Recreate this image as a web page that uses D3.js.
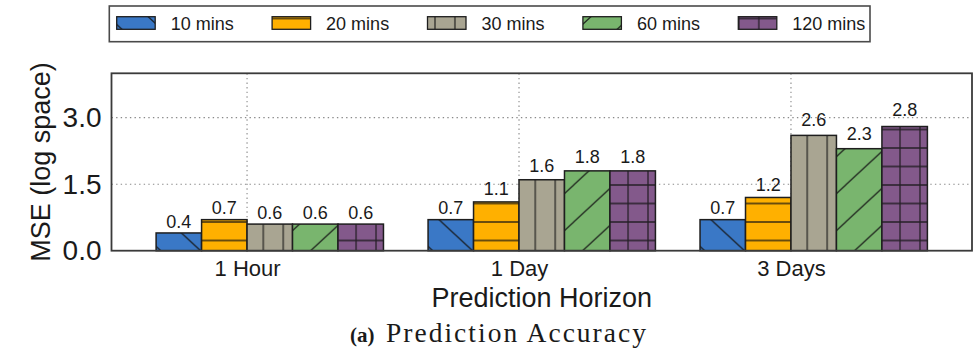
<!DOCTYPE html>
<html>
<head>
<meta charset="utf-8">
<script src="https://cdn.jsdelivr.net/npm/d3@7"></script>
<style>
  body { margin: 0; background: #fff; }
  svg { display: block; }
  .sans { font-family: "Liberation Sans", Arial, Helvetica, sans-serif; }
</style>
</head>
<body>
<svg id="chart" width="980" height="352"></svg>
<script>
// Prediction horizons (x categories) and sampling intervals (series)
const horizons = ["1 Hour", "1 Day", "3 Days"];
const intervals = ["10 mins", "20 mins", "30 mins", "60 mins", "120 mins"];

// MSE (log space) per interval, one value per horizon
const mse10  = [0.4, 0.7, 0.7];
const mse20  = [0.7, 1.1, 1.2];
const mse30  = [0.6, 1.6, 2.6];
const mse60  = [0.6, 1.8, 2.3];
const mse120 = [0.6, 1.8, 2.8];

const yTicks = [0.0, 1.5, 3.0];
const yMax = 4.0;

const fills = ["#3a78c6", "#ffb000", "#a9a592", "#79b56e", "#83598b"];
const hatchKinds = ["back", "horiz", "vert", "fwd", "grid"];

const series = [mse10, mse20, mse30, mse60, mse120];

const svg = d3.select("#chart");
const plot = { left: 111.5, right: 972, top: 73.3, bottom: 250.7 };

// ---- hatch patterns (anchored to the page, like matplotlib hatching) ----
const hx = 19.94, hy = 18.5;       // hatch cell size
const ink = "rgba(20,20,20,0.85)";
const hw = 1.3;
const defs = svg.append("defs");

function pattern(id, w, h, color, tx, ty) {
  const p = defs.append("pattern")
    .attr("id", id)
    .attr("patternUnits", "userSpaceOnUse")
    .attr("width", w).attr("height", h)
    .attr("patternTransform", `translate(${tx},${ty})`);
  p.append("rect").attr("width", w).attr("height", h).attr("fill", color);
  return p;
}

hatchKinds.forEach((kind, j) => {
  const id = "hatch-" + j;
  const c = fills[j];
  let p;
  if (kind === "back") {
    const w = 2 * hx, h = 2 * hy;
    p = pattern(id, w, h, c, 13.5, 0);
    p.append("path")
      .attr("d", `M${-w},${-h}L${2*w},${2*h}M0,${-h}L${2*w},${h}M${-w},0L${w},${2*h}`)
      .attr("stroke", ink).attr("stroke-width", hw).attr("fill", "none");
  } else if (kind === "fwd") {
    const w = 2 * hx, h = 2 * hy;
    p = pattern(id, w, h, c, 26, 0);
    p.append("path")
      .attr("d", `M${-w},${2*h}L${2*w},${-h}M0,${2*h}L${2*w},0M${-w},${h}L${w},${-h}`)
      .attr("stroke", ink).attr("stroke-width", hw).attr("fill", "none");
  } else if (kind === "horiz") {
    p = pattern(id, hx, hy, c, 0, 0);
    p.append("path").attr("d", `M-1,0H${hx+1}M-1,${hy}H${hx+1}`)
      .attr("stroke", ink).attr("stroke-width", hw);
  } else if (kind === "vert") {
    p = pattern(id, hx, hy, c, 7.5, 0);
    p.append("path").attr("d", `M0,-1V${hy+1}M${hx},-1V${hy+1}`)
      .attr("stroke", ink).attr("stroke-width", hw);
  } else {
    p = pattern(id, hx, hy, c, 0.6, 0);
    p.append("path").attr("d", `M0,-1V${hy+1}M${hx},-1V${hy+1}M-1,0H${hx+1}M-1,${hy}H${hx+1}`)
      .attr("stroke", ink).attr("stroke-width", hw);
  }
});

// ---- scales ----
const xGroup = d3.scaleBand()
  .domain(horizons)
  .range([plot.left, plot.right])
  .paddingInner(0.164)
  .paddingOuter(0.164);

const xBar = d3.scaleBand()
  .domain(intervals)
  .range([0, xGroup.bandwidth()]);

// category ticks sit at the left edge of the middle bar of each group
const xTick = d3.scaleOrdinal()
  .domain(horizons)
  .range(horizons.map(h => xGroup(h) + xBar(intervals[2])));

const y = d3.scaleLinear().domain([0, yMax]).range([plot.bottom, plot.top]);

// ---- grid ----
const grid = svg.append("g").attr("stroke", "#8a8a8a").attr("stroke-width", 1.1)
  .attr("stroke-dasharray", "1.4,3.2");
grid.selectAll(".gy").data(yTicks.filter(v => v > 0)).join("line")
  .attr("x1", plot.left).attr("x2", plot.right)
  .attr("y1", d => y(d)).attr("y2", d => y(d));
grid.selectAll(".gx").data(horizons).join("line")
  .attr("x1", d => xTick(d)).attr("x2", d => xTick(d))
  .attr("y1", plot.top).attr("y2", plot.bottom);

// ---- bars ----
const groups = svg.append("g").selectAll("g")
  .data(horizons.map((h, i) => ({ horizon: h, values: intervals.map((s, j) => ({ j, key: s, value: series[j][i] })) })))
  .join("g")
  .attr("transform", d => `translate(${xGroup(d.horizon)},0)`);

groups.selectAll("rect").data(d => d.values).join("rect")
  .attr("x", d => xBar(d.key))
  .attr("y", d => y(d.value))
  .attr("width", xBar.bandwidth())
  .attr("height", d => y(0) - y(d.value))
  .attr("fill", d => `url(#hatch-${d.j})`)
  .attr("stroke", "#1e1e1e")
  .attr("stroke-width", 1.5);

groups.selectAll("text").data(d => d.values).join("text")
  .attr("class", "sans")
  .attr("x", d => xBar(d.key) + xBar.bandwidth() / 2)
  .attr("y", d => y(d.value * 1.05) - 4)
  .attr("text-anchor", "middle")
  .attr("font-size", 18)
  .attr("fill", "#1a1a1a")
  .text(d => d3.format(".1f")(d.value));

// ---- frame ----
svg.append("rect")
  .attr("x", plot.left).attr("y", plot.top)
  .attr("width", plot.right - plot.left).attr("height", plot.bottom - plot.top)
  .attr("fill", "none").attr("stroke", "#3a3a3a").attr("stroke-width", 1.8);

// ---- axes ----
const xAxis = svg.append("g")
  .attr("class", "sans")
  .attr("transform", `translate(0,${plot.bottom})`)
  .call(d3.axisBottom(xTick).tickSize(0).tickPadding(9.3));
xAxis.select(".domain").remove();
xAxis.selectAll("text").attr("font-size", 22).attr("fill", "#1a1a1a")
  .attr("font-family", "Liberation Sans, Arial, sans-serif");

const yAxis = svg.append("g")
  .attr("class", "sans")
  .attr("transform", `translate(${plot.left},0)`)
  .call(d3.axisLeft(y).tickValues(yTicks).tickFormat(d3.format(".1f")).tickSize(0).tickPadding(10));
yAxis.select(".domain").remove();
yAxis.selectAll("text").attr("font-size", 28).attr("fill", "#1a1a1a")
  .attr("font-family", "Liberation Sans, Arial, sans-serif");

// axis titles
svg.append("text").attr("class", "sans")
  .attr("x", (plot.left + plot.right) / 2).attr("y", 307)
  .attr("text-anchor", "middle").attr("font-size", 27).attr("fill", "#1a1a1a")
  .text("Prediction Horizon");

svg.append("text").attr("class", "sans")
  .attr("transform", `translate(50,${(plot.top + plot.bottom) / 2}) rotate(-90)`)
  .attr("text-anchor", "middle").attr("font-size", 27).attr("fill", "#1a1a1a")
  .text("MSE (log space)");

// caption
svg.append("text")
  .attr("x", 350).attr("y", 341.5)
  .attr("font-family", "Liberation Serif, Times New Roman, serif")
  .attr("font-weight", "bold").attr("font-size", 21).attr("fill", "#1a1a1a")
  .text("(a)");
svg.append("text")
  .attr("x", 386).attr("y", 341.5)
  .attr("font-family", "Liberation Serif, Times New Roman, serif")
  .attr("font-size", 27.5).attr("fill", "#1a1a1a")
  .attr("textLength", 260).attr("lengthAdjust", "spacing")
  .text("Prediction Accuracy");

// ---- legend ----
const legend = svg.append("g");
legend.append("rect")
  .attr("x", 109.3).attr("y", 6).attr("width", 760.7).attr("height", 35.7)
  .attr("fill", "#fff").attr("stroke", "#4a4a4a").attr("stroke-width", 1.6);

const legendX = d3.scaleLinear().domain([0, intervals.length - 1]).range([116.7, 738.3]);
const items = legend.selectAll("g.item").data(intervals).join("g")
  .attr("class", "item")
  .attr("transform", (d, j) => `translate(${legendX(j)},0)`);
items.append("rect")
  .attr("x", 0).attr("y", 16.7).attr("width", 38.5).attr("height", 12.6)
  .attr("fill", (d, j) => `url(#hatch-${j})`)
  .attr("stroke", "#1e1e1e").attr("stroke-width", 1.3);
items.append("text").attr("class", "sans")
  .attr("x", 54).attr("y", 29.5)
  .attr("font-size", 18).attr("fill", "#1a1a1a")
  .text(d => d);
</script>
</body>
</html>
